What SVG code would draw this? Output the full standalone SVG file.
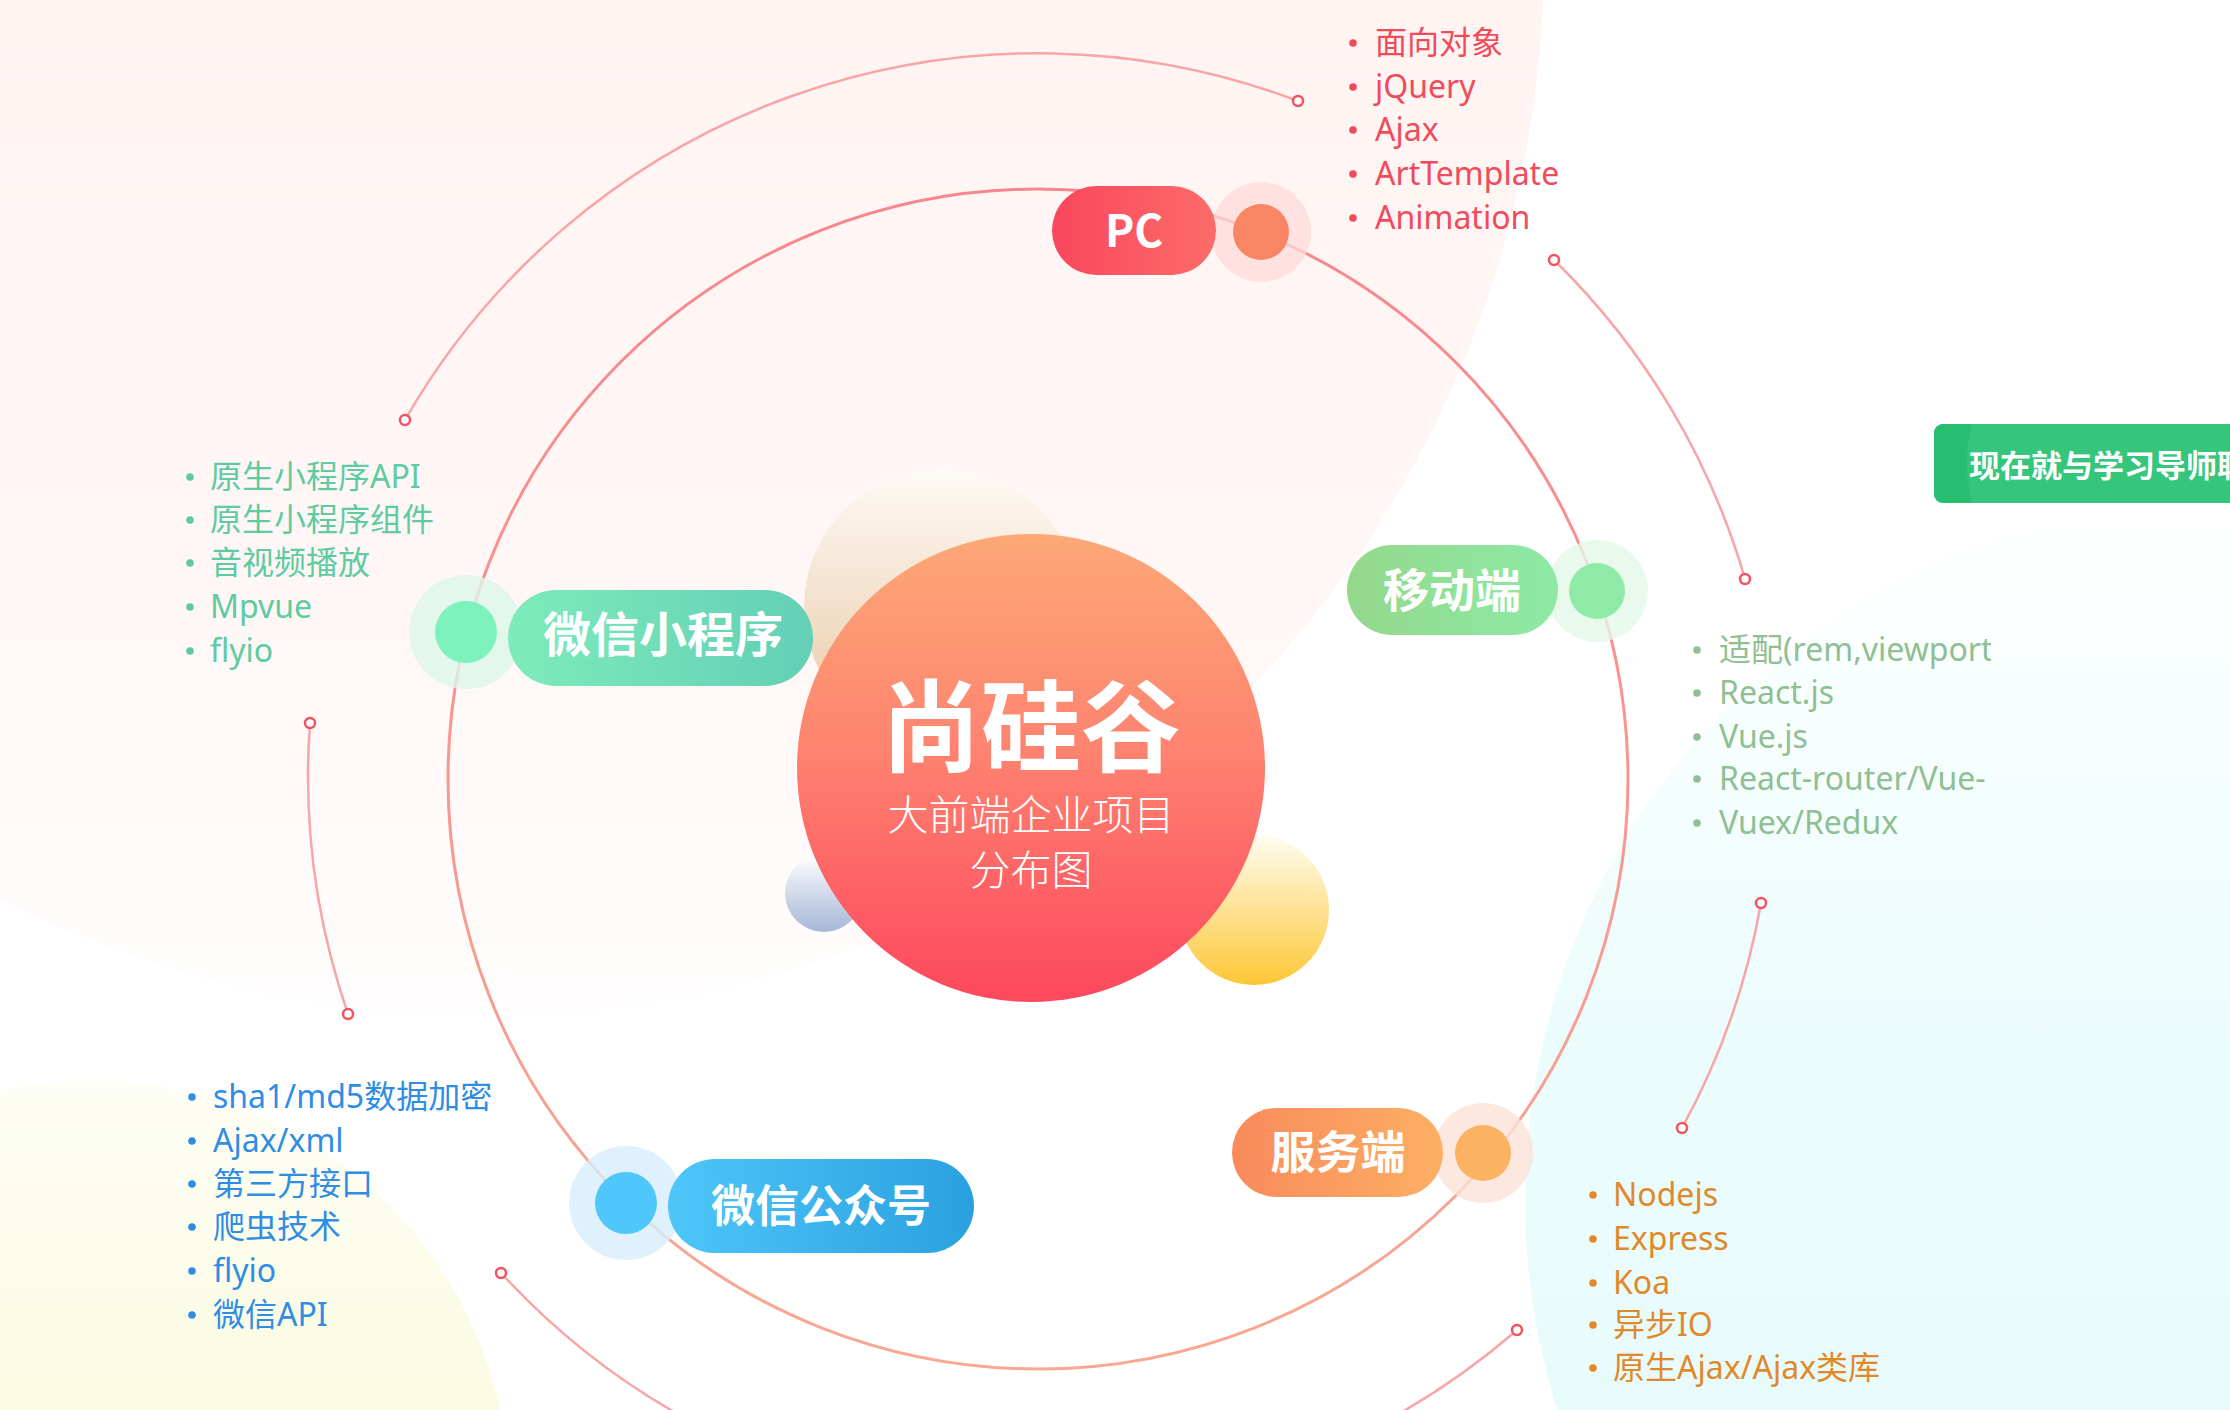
<svg xmlns="http://www.w3.org/2000/svg" width="2230" height="1410" viewBox="0 0 2230 1410">
<defs>
<style>
.list{font-family:"Noto Sans","Noto Sans CJK SC",sans-serif;font-size:32px;}
.lbl{font-family:"Noto Sans CJK SC","Noto Sans",sans-serif;font-weight:700;fill:#ffffff;text-anchor:middle;}
.arc{fill:none;stroke:#f9a5a8;stroke-width:2.5;}
.end{fill:#ffffff;stroke:#f4525f;stroke-width:2.5;}
.pc{fill:#f04b5b;}
.mb{fill:#8fbf92;}
.mp{fill:#5ecba1;}
.wx{fill:#2f8de4;}
.sv{fill:#e0892b;}
</style>
<linearGradient id="bgPink" x1="0" y1="0" x2="0" y2="1016" gradientUnits="userSpaceOnUse">
<stop offset="0" stop-color="#fff4f2"/><stop offset="0.6" stop-color="#fff7f6"/><stop offset="1" stop-color="#fffdfd"/>
</linearGradient>
<linearGradient id="bgCyan" x1="0" y1="499" x2="0" y2="1410" gradientUnits="userSpaceOnUse">
<stop offset="0" stop-color="#ecfcfc" stop-opacity="0"/><stop offset="0.35" stop-color="#ecfcfc" stop-opacity="0.6"/><stop offset="0.6" stop-color="#ebfcfc" stop-opacity="1"/><stop offset="1" stop-color="#e8fbfb"/>
</linearGradient>
<linearGradient id="bgYel" x1="0" y1="1080" x2="0" y2="1410" gradientUnits="userSpaceOnUse">
<stop offset="0" stop-color="#fefef6"/><stop offset="1" stop-color="#fafbe0"/>
</linearGradient>
<linearGradient id="ringG" x1="0" y1="189" x2="0" y2="1369" gradientUnits="userSpaceOnUse">
<stop offset="0" stop-color="#f7868e"/><stop offset="1" stop-color="#f9a892"/>
</linearGradient>
<linearGradient id="centerG" x1="0" y1="0" x2="0" y2="1">
<stop offset="0" stop-color="#fca876"/><stop offset="0.45" stop-color="#fe8470"/><stop offset="1" stop-color="#fd475d"/>
</linearGradient>
<linearGradient id="beigeG" x1="0" y1="0" x2="0" y2="1">
<stop offset="0" stop-color="#fefaf6"/><stop offset="1" stop-color="#e7c6a0"/>
</linearGradient>
<linearGradient id="yelG" x1="0" y1="0" x2="0" y2="1">
<stop offset="0" stop-color="#fffdf0"/><stop offset="1" stop-color="#fdc736"/>
</linearGradient>
<linearGradient id="blueG" x1="0" y1="0" x2="0" y2="1">
<stop offset="0" stop-color="#ffffff"/><stop offset="1" stop-color="#a5b6d8"/>
</linearGradient>
<linearGradient id="pcG" x1="0" y1="0" x2="1" y2="0">
<stop offset="0" stop-color="#f9465d"/><stop offset="1" stop-color="#fc6c68"/>
</linearGradient>
<linearGradient id="mbG" x1="0" y1="0" x2="1" y2="0">
<stop offset="0" stop-color="#94d88b"/><stop offset="1" stop-color="#8deaa6"/>
</linearGradient>
<linearGradient id="mpG" x1="0" y1="0" x2="1" y2="0">
<stop offset="0" stop-color="#7eebbb"/><stop offset="1" stop-color="#63cfb6"/>
</linearGradient>
<linearGradient id="wxG" x1="0" y1="0" x2="1" y2="0">
<stop offset="0" stop-color="#4ec6f8"/><stop offset="1" stop-color="#2aa0df"/>
</linearGradient>
<linearGradient id="svG" x1="0" y1="0" x2="1" y2="0">
<stop offset="0" stop-color="#f98a5b"/><stop offset="1" stop-color="#fcb065"/>
</linearGradient>
<clipPath id="mbClip"><rect x="0" y="0" width="1991" height="1410"/></clipPath>
</defs>

<g id="background">
<rect x="0" y="0" width="2230" height="1410" fill="#ffffff"/>
<circle cx="484" cy="-44" r="1060" fill="url(#bgPink)"/>
<circle cx="2226" cy="1200" r="701" fill="url(#bgCyan)"/>
<circle cx="90" cy="1500" r="420" fill="url(#bgYel)"/>
</g>

<g id="connectors">
<circle cx="1038" cy="779" r="590" fill="none" stroke="url(#ringG)" stroke-width="3"/>
<path class="arc" d="M405,420 A730,730 0 0 1 1298,101"/>
<path class="arc" d="M1554,260 A730,730 0 0 1 1745,579"/>
<path class="arc" d="M1761,903 A730,730 0 0 1 1682,1128"/>
<path class="arc" d="M1517,1330 A730,730 0 0 1 1288,1465"/>
<path class="arc" d="M501,1273 A730,730 0 0 0 730,1441"/>
<path class="arc" d="M310,723 A730,730 0 0 0 348,1014"/>
<circle class="end" cx="405" cy="420" r="5"/>
<circle class="end" cx="1298" cy="101" r="5"/>
<circle class="end" cx="1554" cy="260" r="5"/>
<circle class="end" cx="1745" cy="579" r="5"/>
<circle class="end" cx="1761" cy="903" r="5"/>
<circle class="end" cx="1682" cy="1128" r="5"/>
<circle class="end" cx="1517" cy="1330" r="5"/>
<circle class="end" cx="501" cy="1273" r="5"/>
<circle class="end" cx="310" cy="723" r="5"/>
<circle class="end" cx="348" cy="1014" r="5"/>
</g>

<g id="center">
<circle cx="942" cy="607" r="138" fill="url(#beigeG)"/>
<circle cx="1254" cy="910" r="75" fill="url(#yelG)"/>
<circle cx="824" cy="893" r="39" fill="url(#blueG)"/>
<circle cx="1031" cy="768" r="234" fill="url(#centerG)"/>
<text x="1031" y="764" font-family="'Noto Sans CJK SC',sans-serif" font-weight="700" font-size="100" fill="#ffffff" text-anchor="middle">尚硅谷</text>
<text x="1031" y="830" font-family="'Noto Sans CJK SC',sans-serif" font-weight="300" font-size="41" fill="#ffffff" text-anchor="middle">大前端企业项目</text>
<text x="1031" y="885" font-family="'Noto Sans CJK SC',sans-serif" font-weight="300" font-size="41" fill="#ffffff" text-anchor="middle">分布图</text>
</g>

<g id="node-pc">
<circle cx="1261" cy="232" r="50" fill="#fdd9da" fill-opacity="0.75"/>
<circle cx="1261" cy="232" r="28" fill="#f88564"/>
<rect x="1052" y="186" width="164" height="89" rx="44.5" fill="url(#pcG)"/>
<text class="lbl" x="1134" y="247" font-family="'Noto Sans',sans-serif" font-size="44">PC</text>
<g class="list pc">
<circle cx="1353" cy="43" r="3.8"/><text x="1375" y="54">面向对象</text>
<circle cx="1353" cy="87" r="3.8"/><text x="1375" y="98">jQuery</text>
<circle cx="1353" cy="130" r="3.8"/><text x="1375" y="141">Ajax</text>
<circle cx="1353" cy="174" r="3.8"/><text x="1375" y="185">ArtTemplate</text>
<circle cx="1353" cy="218" r="3.8"/><text x="1375" y="229">Animation</text>
</g>
</g>

<g id="node-mobile">
<circle cx="1597" cy="591" r="51" fill="#e3f8e8" fill-opacity="0.8"/>
<circle cx="1597" cy="591" r="28" fill="#8eeaa6"/>
<rect x="1347" y="545" width="211" height="90" rx="45" fill="url(#mbG)"/>
<text class="lbl" x="1452" y="607" font-size="46">移动端</text>
<g class="list mb" clip-path="url(#mbClip)">
<circle cx="1697" cy="650" r="3.8"/><text x="1719" y="661">适配(rem,viewport</text>
<circle cx="1697" cy="693" r="3.8"/><text x="1719" y="704">React.js</text>
<circle cx="1697" cy="737" r="3.8"/><text x="1719" y="748">Vue.js</text>
<circle cx="1697" cy="779" r="3.8"/><text x="1719" y="790">React-router/Vue-</text>
<circle cx="1697" cy="823" r="3.8"/><text x="1719" y="834">Vuex/Redux</text>
</g>
</g>

<g id="node-miniprogram">
<circle cx="466" cy="632" r="57" fill="#dcf6ea" fill-opacity="0.8"/>
<circle cx="466" cy="632" r="31" fill="#7ef2bc"/>
<rect x="508" y="590" width="305" height="96" rx="48" fill="url(#mpG)"/>
<text class="lbl" x="663" y="652" font-size="48">微信小程序</text>
<g class="list mp">
<circle cx="190" cy="477" r="3.8"/><text x="210" y="488">原生小程序API</text>
<circle cx="190" cy="520" r="3.8"/><text x="210" y="531">原生小程序组件</text>
<circle cx="190" cy="563" r="3.8"/><text x="210" y="574">音视频播放</text>
<circle cx="190" cy="607" r="3.8"/><text x="210" y="618">Mpvue</text>
<circle cx="190" cy="651" r="3.8"/><text x="210" y="662">flyio</text>
</g>
</g>

<g id="node-wechat">
<circle cx="626" cy="1203" r="57" fill="#d6eefc" fill-opacity="0.8"/>
<circle cx="626" cy="1203" r="31" fill="#4fc7fb"/>
<rect x="668" y="1159" width="306" height="94" rx="47" fill="url(#wxG)"/>
<text class="lbl" x="821" y="1222" font-size="44">微信公众号</text>
<g class="list wx">
<circle cx="192" cy="1097" r="3.8"/><text x="213" y="1108">sha1/md5数据加密</text>
<circle cx="192" cy="1141" r="3.8"/><text x="213" y="1152">Ajax/xml</text>
<circle cx="192" cy="1184" r="3.8"/><text x="213" y="1195">第三方接口</text>
<circle cx="192" cy="1227" r="3.8"/><text x="213" y="1238">爬虫技术</text>
<circle cx="192" cy="1271" r="3.8"/><text x="213" y="1282">flyio</text>
<circle cx="192" cy="1315" r="3.8"/><text x="213" y="1326">微信API</text>
</g>
</g>

<g id="node-server">
<circle cx="1483" cy="1153" r="50" fill="#fde2d8" fill-opacity="0.8"/>
<circle cx="1483" cy="1153" r="28" fill="#fdb262"/>
<rect x="1232" y="1108" width="211" height="89" rx="44.5" fill="url(#svG)"/>
<text class="lbl" x="1338" y="1169" font-size="45">服务端</text>
<g class="list sv">
<circle cx="1593" cy="1195" r="3.8"/><text x="1613" y="1206">Nodejs</text>
<circle cx="1593" cy="1239" r="3.8"/><text x="1613" y="1250">Express</text>
<circle cx="1593" cy="1283" r="3.8"/><text x="1613" y="1294">Koa</text>
<circle cx="1593" cy="1325" r="3.8"/><text x="1613" y="1336">异步IO</text>
<circle cx="1593" cy="1368" r="3.8"/><text x="1613" y="1379">原生Ajax/Ajax类库</text>
</g>
</g>

<g id="button">
<rect x="1934" y="424" width="320" height="79" rx="9" fill="#35c67b"/>
<path d="M1972,424 H1943 A9,9 0 0 0 1934,433 V494 A9,9 0 0 0 1943,503 H1972 Q1962,463.5 1972,424 Z" fill="#27be6f"/>
<text x="1969" y="477" font-family="'Noto Sans CJK SC',sans-serif" font-weight="700" font-size="31" fill="#ffffff">现在就与学习导师联</text>
</g>
</svg>
